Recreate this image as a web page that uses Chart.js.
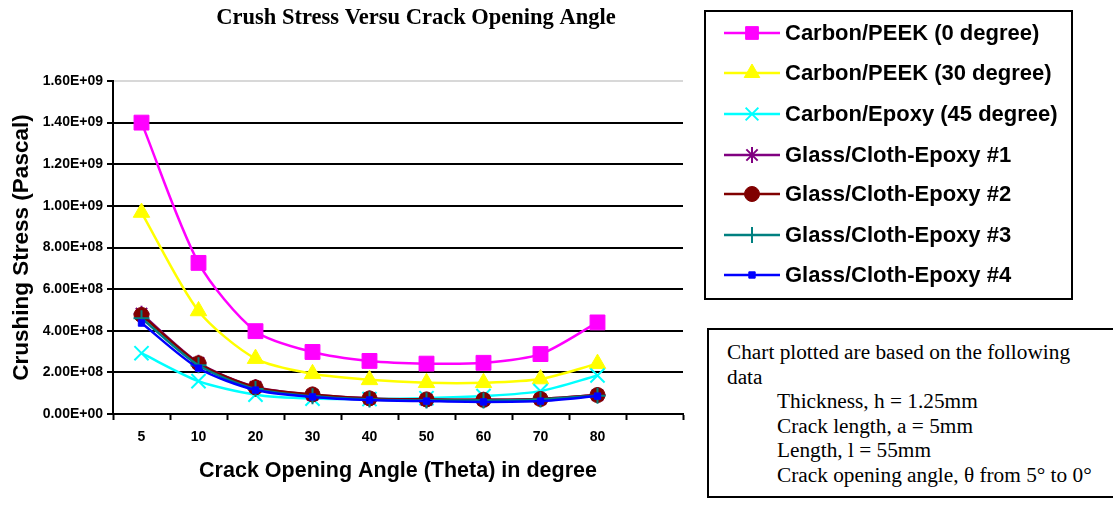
<!DOCTYPE html>
<html>
<head>
<meta charset="utf-8">
<script src="https://cdn.jsdelivr.net/npm/chart.js@4.4.1/dist/chart.umd.min.js"></script>
<style>
  html, body { margin: 0; padding: 0; background: #fff; }
  #wrap { position: relative; width: 1113px; height: 506px; overflow: hidden; }
  #chart { position: absolute; left: 0; top: 0; }
  #legend {
    position: absolute; left: 704px; top: 10px; width: 365px; height: 286px;
    border: 2px solid #000; background: #fff; box-sizing: content-box;
    font: bold 22px "Liberation Sans", Arial, sans-serif; color: #000;
  }
  .row { position: absolute; left: 0; height: 30px; display: flex; align-items: center; white-space: nowrap; }
  .row canvas { margin-left: 18px; margin-right: 5px; }
  #note {
    position: absolute; left: 707px; top: 328px; width: 420px; height: 166px;
    border: 2px solid #000; background: #fff;
    font: 21.3px "Liberation Serif", "Times New Roman", serif; color: #000;
    line-height: 24.5px;
  }
  #note div { position: absolute; white-space: nowrap; }
</style>
</head>
<body>
<div id="wrap">
  <canvas id="chart" width="700" height="506"></canvas>
  <div id="legend"></div>
  <div id="note">
    <div style="left:18px; top:9.5px;">Chart plotted are based on the following</div>
    <div style="left:18px; top:34.5px;">data</div>
    <div style="left:68px; top:58.5px;">Thickness, h = 1.25mm</div>
    <div style="left:68px; top:83.5px;">Crack length, a = 5mm</div>
    <div style="left:68px; top:107.5px;">Length, l = 55mm</div>
    <div style="left:68px; top:132.5px;">Crack opening angle, θ from 5° to 0°</div>
  </div>
</div>
<script>
// categories (last slot is empty in the original)
const angles = ["5", "10", "20", "30", "40", "50", "60", "70", "80", ""];

// crushing stress, Pa
const carbonPeek0  = [1.40e9, 7.26e8, 3.98e8, 2.98e8, 2.55e8, 2.42e8, 2.46e8, 2.88e8, 4.40e8];
const carbonPeek30 = [9.68e8, 4.95e8, 2.66e8, 1.93e8, 1.64e8, 1.50e8, 1.50e8, 1.68e8, 2.42e8];
const carbonEpoxy45 = [2.92e8, 1.58e8, 9.30e7, 7.40e7, 7.20e7, 7.60e7, 8.60e7, 1.10e8, 1.85e8];
const glass1 = [4.82e8, 2.46e8, 1.30e8, 9.20e7, 7.50e7, 6.80e7, 6.80e7, 7.20e7, 9.10e7];
const glass2 = [4.76e8, 2.44e8, 1.28e8, 9.40e7, 7.50e7, 7.00e7, 6.80e7, 7.20e7, 9.10e7];
const glass3 = [4.60e8, 2.34e8, 1.20e8, 8.50e7, 7.00e7, 6.50e7, 6.50e7, 7.00e7, 8.80e7];
const glass4 = [4.37e8, 2.20e8, 1.15e8, 8.20e7, 6.70e7, 6.20e7, 5.80e7, 6.20e7, 8.60e7];

const yTicks = [0, 2e8, 4e8, 6e8, 8e8, 1e9, 1.2e9, 1.4e9, 1.6e9];

const chartTitle = "Crush Stress Versu Crack Opening Angle";

const SANS = '"Liberation Sans", Arial, sans-serif';
const SERIF = '"Liberation Serif", "Times New Roman", serif';

// 1.60E+09 style labels
function sci(v) {
  const parts = Number(v).toExponential(2).split('e');
  const e = parseInt(parts[1], 10);
  const sign = e < 0 ? '-' : '+';
  return parts[0] + 'E' + sign + String(Math.abs(e)).padStart(2, '0');
}

const series = [
  { label: "Carbon/PEEK (0 degree)",    data: carbonPeek0,   color: "#FF00FF", fill: "#FF00FF", style: "rect",     r: 10.5, bw: 1 },
  { label: "Carbon/PEEK (30 degree)",   data: carbonPeek30,  color: "#FFFF00", fill: "#FFFF00", style: "triangle", r: 9.5,  bw: 1 },
  { label: "Carbon/Epoxy (45 degree)",  data: carbonEpoxy45, color: "#00FFFF", fill: "#00FFFF", style: "crossRot", r: 10,   bw: 2 },
  { label: "Glass/Cloth-Epoxy #1",      data: glass1,        color: "#800080", fill: "#800080", style: "star",     r: 8,    bw: 2 },
  { label: "Glass/Cloth-Epoxy #2",      data: glass2,        color: "#800000", fill: "#800000", style: "circle",   r: 7.5,  bw: 1 },
  { label: "Glass/Cloth-Epoxy #3",      data: glass3,        color: "#008080", fill: "#008080", style: "cross",    r: 8,    bw: 2 },
  { label: "Glass/Cloth-Epoxy #4",      data: glass4,        color: "#0000FF", fill: "#0000FF", style: "rect",     r: 4.5,  bw: 1 }
];

const datasets = series.map((s, i) => ({
  label: s.label,
  data: s.data,
  borderColor: s.color,
  backgroundColor: s.fill,
  borderWidth: 2.5,
  tension: 0.27,
  pointStyle: s.style,
  pointRadius: s.r,
  pointBorderWidth: s.bw,
  pointBorderColor: s.color,
  pointBackgroundColor: s.fill,
  order: series.length - i
}));

// title sits off-centre relative to the plot, so draw it ourselves
const titlePlugin = {
  id: "offsetTitle",
  afterDraw(chart) {
    const ctx = chart.ctx;
    ctx.save();
    ctx.font = "bold 22.5px " + SERIF;
    ctx.fillStyle = "#000";
    ctx.textAlign = "center";
    ctx.textBaseline = "middle";
    ctx.fillText(chartTitle, 416, 18);
    ctx.restore();
  }
};

new Chart(document.getElementById("chart").getContext("2d"), {
  type: "line",
  data: { labels: angles, datasets: datasets },
  plugins: [titlePlugin],
  options: {
    responsive: false,
    animation: false,
    layout: { padding: { left: 0, right: 17, top: 81, bottom: 0 } },
    plugins: {
      legend: { display: false },
      tooltip: { enabled: false },
      title: { display: false }
    },
    scales: {
      x: {
        offset: true,
        afterFit: (s) => { s.height = 92; },
        grid: {
          offset: true, drawOnChartArea: false, drawTicks: true,
          tickLength: 6, tickColor: "#000", tickWidth: 2
        },
        border: { color: "#000", width: 2 },
        ticks: { color: "#000", font: { family: SANS, size: 14, weight: "bold" }, padding: 8.5, maxRotation: 0, autoSkip: false },
        title: {
          display: true, text: "Crack Opening Angle (Theta) in degree", color: "#000",
          font: { family: SANS, size: 21.5, weight: "bold" }, padding: { top: 0, bottom: 22 }
        }
      },
      y: {
        min: 0, max: 1.6e9,
        afterFit: (s) => { s.width = 113; },
        afterBuildTicks: (s) => { s.ticks = yTicks.map(v => ({ value: v })); },
        grid: {
          color: (c) => (c.tick && c.tick.value === 1.6e9 ? "#d8d8d8" : "#000"),
          lineWidth: 2, drawTicks: true, tickLength: 6, tickColor: "#000", tickWidth: 2
        },
        border: { color: "#000", width: 2 },
        ticks: {
          color: "#000", font: { family: SANS, size: 14, weight: "bold" }, padding: 4,
          callback: (v) => sci(v)
        },
        title: {
          display: true, text: "Crushing Stress (Pascal)", color: "#000",
          font: { family: SANS, size: 22.5, weight: "bold" }, padding: { top: 8.6, bottom: 0 }
        }
      }
    }
  }
});

// legend samples
function drawMarker(ctx, style, x, y, r, color, fill, bw) {
  ctx.save();
  ctx.strokeStyle = color; ctx.fillStyle = fill; ctx.lineWidth = bw;
  ctx.beginPath();
  if (style === "rect") {
    const h = r * Math.SQRT1_2;
    ctx.rect(x - h, y - h, 2 * h, 2 * h); ctx.fill(); ctx.stroke();
  } else if (style === "triangle") {
    ctx.moveTo(x, y - r);
    ctx.lineTo(x + r * 0.866, y + r * 0.5);
    ctx.lineTo(x - r * 0.866, y + r * 0.5);
    ctx.closePath(); ctx.fill(); ctx.stroke();
  } else if (style === "circle") {
    ctx.arc(x, y, r, 0, Math.PI * 2); ctx.fill(); ctx.stroke();
  } else {
    const d = r * Math.SQRT1_2;
    if (style === "crossRot" || style === "star") {
      ctx.moveTo(x - d, y - d); ctx.lineTo(x + d, y + d);
      ctx.moveTo(x - d, y + d); ctx.lineTo(x + d, y - d);
    }
    if (style === "cross" || style === "star") {
      ctx.moveTo(x, y - r); ctx.lineTo(x, y + r);
      if (style === "cross") { ctx.moveTo(x - r, y); ctx.lineTo(x + r, y); }
    }
    ctx.stroke();
  }
  ctx.restore();
}

const legendEl = document.getElementById("legend");
const rowTops = [6, 46, 87, 128, 167, 208, 248];
series.forEach((s, i) => {
  const row = document.createElement("div");
  row.className = "row";
  row.style.top = rowTops[i] + "px";
  const c = document.createElement("canvas");
  c.width = 56; c.height = 30;
  const cx = c.getContext("2d");
  cx.strokeStyle = s.color; cx.lineWidth = 2.5;
  cx.beginPath(); cx.moveTo(0, 15); cx.lineTo(56, 15); cx.stroke();
  drawMarker(cx, s.style, 28, 15, Math.min(s.r, 9), s.color, s.fill, s.bw);
  row.appendChild(c);
  const t = document.createElement("span");
  t.textContent = s.label;
  row.appendChild(t);
  legendEl.appendChild(row);
});
</script>
</body>
</html>
